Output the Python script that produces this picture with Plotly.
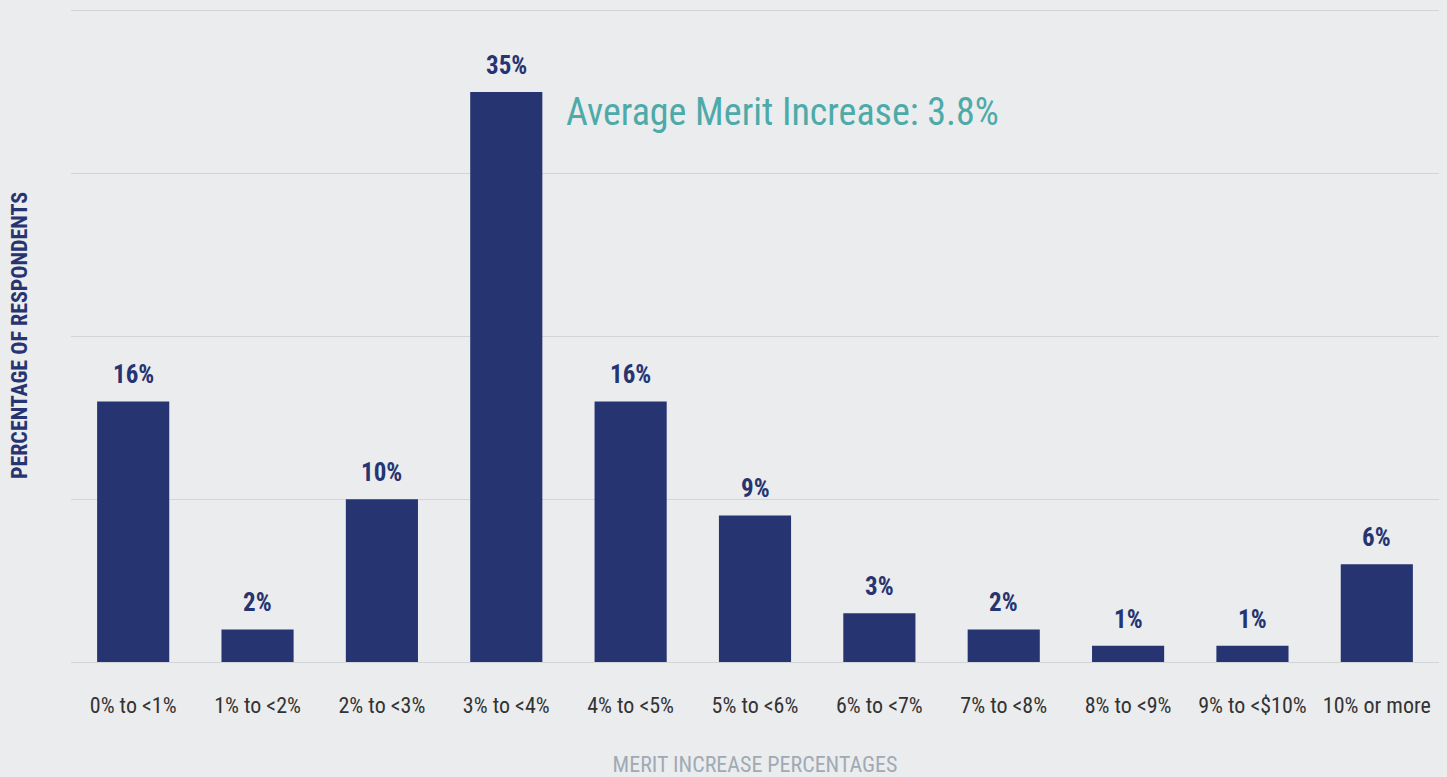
import plotly.graph_objects as go

categories = ["0% to <1%", "1% to <2%", "2% to <3%", "3% to <4%", "4% to <5%",
              "5% to <6%", "6% to <7%", "7% to <8%", "8% to <9%", "9% to <$10%",
              "10% or more"]
respondents_pct = [16, 2, 10, 35, 16, 9, 3, 2, 1, 1, 6]
average_merit = 3.8

NAVY = "#263472"
TEAL = "#4DAAA8"
BG = "#EBECEE"
GRID = "#D2D5D8"
FONT = "Roboto Condensed, Roboto, sans-serif"

fig = go.Figure()
fig.add_trace(go.Bar(
    x=categories,
    y=respondents_pct,
    marker=dict(color=NAVY, line=dict(width=0)),
    hoverinfo="skip",
))

# value labels above each bar
for cat, val in zip(categories, respondents_pct):
    fig.add_annotation(
        x=cat, y=val, text=f"<b>{val}%</b>",
        showarrow=False, yanchor="bottom", yshift=10,
        font=dict(family=FONT, size=25, color=NAVY),
    )

fig.add_annotation(
    xref="paper", yref="y", x=0.3605, y=33.8,
    xanchor="left", yanchor="middle",
    text=f"Average Merit Increase: {average_merit}%",
    showarrow=False,
    font=dict(family=FONT, size=38, color=TEAL),
)

fig.update_layout(
    width=1447, height=777,
    paper_bgcolor=BG, plot_bgcolor=BG,
    margin=dict(l=71, r=8, t=9, b=114.5),
    bargap=0.42,
    showlegend=False,
    font=dict(family=FONT),
    xaxis=dict(
        automargin=False,
        tickfont=dict(family=FONT, size=22, color="#333333"),
        ticks="", showgrid=False, showline=False,
        title=dict(text="MERIT INCREASE PERCENTAGES", standoff=45,
                   font=dict(family=FONT, size=22, color="#A0AAB4")),
        ticklabelstandoff=28,
    ),
    yaxis=dict(
        automargin=False,
        range=[0, 40.1], tickvals=[0, 10, 20, 30, 40],
        showticklabels=False, ticks="",
        gridcolor=GRID, gridwidth=1,
        zeroline=True, zerolinecolor=GRID, zerolinewidth=1,
        title=dict(text="<b>PERCENTAGE OF RESPONDENTS</b>", standoff=36,
                   font=dict(family=FONT, size=22, color=NAVY)),
    ),
)

fig.write_html("out.html")
